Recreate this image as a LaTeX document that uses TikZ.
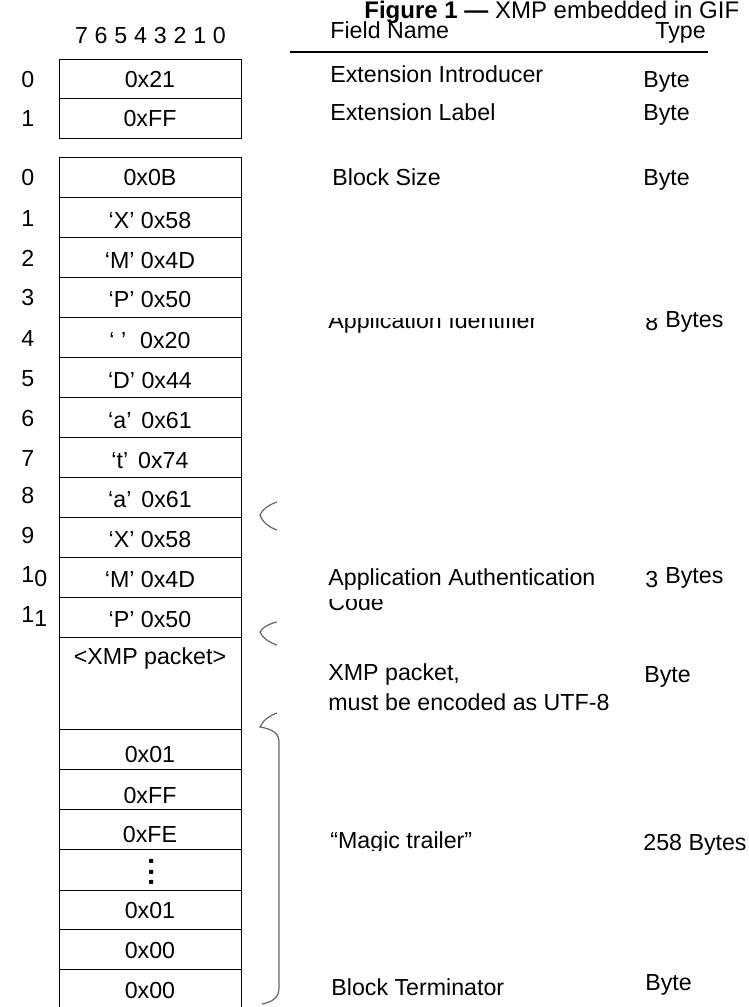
\documentclass[tikz,border=0pt]{standalone}
\usepackage{fontspec}
\setmainfont{Liberation Sans}
\usetikzlibrary{positioning}

\tikzset{
  cell/.style={anchor=base, inner sep=0pt},
  idx/.style={anchor=base west, inner sep=0pt},
  fld/.style={anchor=base west, inner sep=0pt},
  brc/.style={black!60, line width=0.6pt},
}

\begin{document}
\begin{tikzpicture}[x=0.5pt, y=-0.5pt, font=\fontsize{11.6}{13}\selectfont]
\useasboundingbox (0,0) rectangle (749,1007);

% Title and table head
\node[fld, font=\fontsize{12}{13}\selectfont] (title) at (364,18)
  {\textbf{Figure 1 —} XMP embedded in GIF};
\node[fld] (hname) at (330,38) {Field Name};
\node[fld] (htype) at (655,38) {Type};
\draw[line width=1pt] (290,52) -- (708,52);

% Bit numbers
\foreach \b in {0,...,7}
  \node[cell] (bit\b) at ({81.5+(7-\b)*19.7},43) {\b};

% Extension header
\draw (59.5,59) rectangle (241,138);
\draw (59.5,98) -- (241,98);
\node[cell] (intro) at (150,87) {0x21};
\node[cell] (label) at (150,126) {0xFF};
\node[idx] (h0) at (21,87) {0};
\node[idx] (h1) at (21,126) {1};

% Application extension block
\draw (59.5,157) rectangle (241,1010);
\foreach \top in {197,237,277,317,357,397,437,477,517,557,597,637,729,769,809,849,890,929,969}
  \draw (59.5,\top) -- (241,\top);
\foreach \base/\txt [count=\i] in {185/0x0B, 228/{‘X’ 0x58}, 268/{‘M’ 0x4D},
    307/{‘P’ 0x50}, 348/{‘\ ’\hspace{7pt}0x20}, 388/{‘D’ 0x44},
    428/{‘a’\hspace{5pt}0x61}, 468/{‘t’\hspace{5pt}0x74}, 507/{‘a’\hspace{5pt}0x61},
    547/{‘X’ 0x58}, 587/{‘M’ 0x4D}, 627/{‘P’ 0x50}, 664/{<XMP packet>},
    762/0x01, 803/0xFF, 842/0xFE, 918/0x01, 958/0x00, 998/0x00}
  \node[cell] (c\i) at (150,\base) {\txt};
\node[inner sep=0pt, font=\fontsize{14}{14}\bfseries] (dots) at (152,872)
  {\rotatebox{-90}{.\hspace{1.2pt}.\hspace{1.2pt}.}};

% Byte offsets
\foreach \base/\n in {185/0, 226/1, 266/2, 305/3, 346/4, 386/5, 426/6, 466/7, 503/8, 543/9}
  \node[idx] (r\n) at (21,\base) {\n};
\node[idx] (r10) at (21,582) {1\raisebox{-2pt}{0}};
\node[idx] (r11) at (21,622) {1\raisebox{-2pt}{1}};

% Field names and types
\node[fld] (f-intro) at (330,82) {Extension Introducer};
\node[fld] (t-intro) at (643,87) {Byte};
\node[fld] (f-label) at (330,120) {Extension Label};
\node[fld] (t-label) at (643,120) {Byte};
\node[fld] (f-size) at (332,185) {Block Size};
\node[fld] (t-size) at (643,185) {Byte};
\begin{scope}
  \clip (300,318) rectangle (662,345);
  \node[fld] (f-ident) at (328,328) {Application Identifier};
  \node[fld] (t-ident) at (645,330) {8};
\end{scope}
\node[fld] (t-ident2) at (665,327) {Bytes};
\node[fld] (f-auth) at (328,585) {Application Authentication};
\begin{scope}
  \clip (300,599) rectangle (640,625);
  \node[fld] (f-auth2) at (328,610) {Code};
\end{scope}
\node[fld] (t-auth) at (645,587) {3};
\node[fld] (t-auth2) at (665,583) {Bytes};
\node[fld] (f-xmp) at (328,680) {XMP packet,};
\node[fld] (f-xmp2) at (328,710) {must be encoded as UTF-8};
\node[fld] (t-xmp) at (644,682) {Byte};
\begin{scope}
  \clip (300,815) rectangle (640,850);
  \node[fld] (f-magic) at (330,848) {“Magic trailer”};
\end{scope}
\node[fld] (t-magic) at (643,850) {258 Bytes};
\node[fld] (f-term) at (331,995) {Block Terminator};
\node[fld] (t-term) at (645,990) {Byte};

% Braces
\draw[brc] (277,502) .. controls (268,505) and (262,510) .. (260,515)
  .. controls (262,521) and (268,527) .. (277,530);
\draw[brc] (277,622) .. controls (268,624) and (262,628) .. (260,632)
  .. controls (262,637) and (268,642) .. (277,645);
\draw[brc] (277,713) .. controls (268,716) and (262,722) .. (260,727)
  .. controls (272,729) and (279,733) .. (279,742) -- (279,988)
  .. controls (279,998) and (272,1002) .. (262,1004);
\end{tikzpicture}
\end{document}
